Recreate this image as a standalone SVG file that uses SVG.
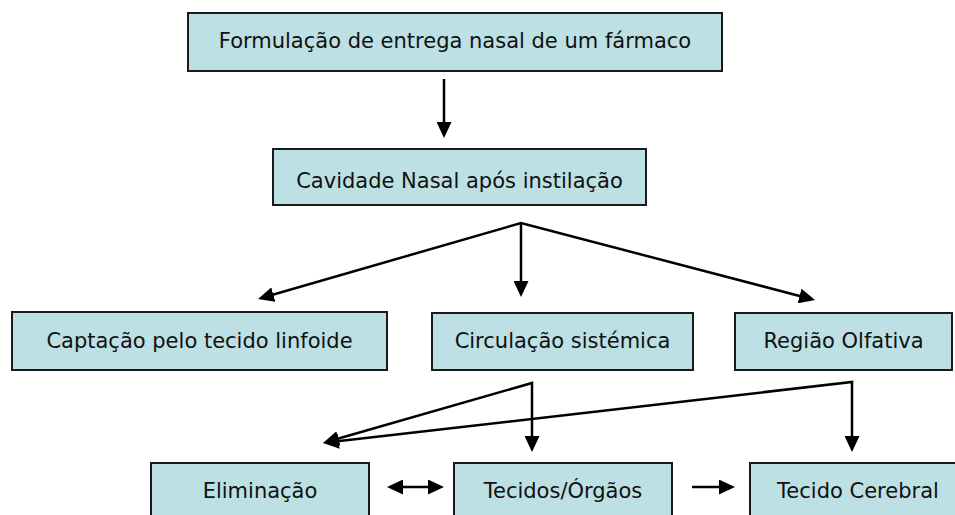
<svg xmlns="http://www.w3.org/2000/svg" width="955" height="515" viewBox="0 0 955 515">
<style>
  .box { fill: #BCE0E3; stroke: #1a1a1a; stroke-width: 2; }
  .lbl { font-family: "DejaVu Sans", "Liberation Sans", sans-serif; font-size: 21px; fill: #111; text-anchor: middle; }
  .con { fill: none; stroke: #000; stroke-width: 2.5; stroke-linejoin: miter; }
</style>
<defs>
  <marker id="ah" viewBox="0 0 16 15" refX="8" refY="7.5" markerWidth="16" markerHeight="15" markerUnits="userSpaceOnUse" orient="auto-start-reverse">
    <path d="M0,0 L16,7.5 L0,15 z" fill="#000"/>
  </marker>
</defs>
<rect width="955" height="515" fill="#fff"/>

<g id="n1"><rect class="box" x="188" y="13" width="534" height="58"/><text class="lbl" x="455" y="48">Formulação de entrega nasal de um fármaco</text></g>
<g id="n2"><rect class="box" x="273" y="149" width="373" height="56"/><text class="lbl" x="459.5" y="188">Cavidade Nasal após instilação</text></g>
<g id="n3"><rect class="box" x="12" y="312" width="375" height="58"/><text class="lbl" x="199.5" y="348">Captação pelo tecido linfoide</text></g>
<g id="n4"><rect class="box" x="432" y="313" width="261" height="57"/><text class="lbl" x="562.5" y="348">Circulação sistémica</text></g>
<g id="n5"><rect class="box" x="735" y="313" width="217" height="57"/><text class="lbl" x="843.5" y="348">Região Olfativa</text></g>
<g id="n6"><rect class="box" x="151" y="463" width="218" height="70"/><text class="lbl" x="260" y="498">Eliminação</text></g>
<g id="n7"><rect class="box" x="454" y="463" width="218" height="70"/><text class="lbl" x="563" y="498">Tecidos/Órgãos</text></g>
<g id="n8"><rect class="box" x="750" y="463" width="216" height="70"/><text class="lbl" x="858" y="498">Tecido Cerebral</text></g>

<g id="connectors">
  <path class="con" d="M444,79 L444,130" marker-end="url(#ah)"/>
  <path class="con" d="M265.7,296.8 L521,223 L807.3,298" marker-start="url(#ah)" marker-end="url(#ah)"/>
  <path class="con" d="M521,223 L521,289" marker-end="url(#ah)"/>
  <path class="con" d="M330.7,440.8 L532,383 L532,444" marker-start="url(#ah)" marker-end="url(#ah)"/>
  <path class="con" d="M330.9,442.1 L852,382 L852,444" marker-start="url(#ah)" marker-end="url(#ah)"/>
  <path class="con" d="M395,487 L436,487" marker-start="url(#ah)" marker-end="url(#ah)"/>
  <path class="con" d="M692,487 L727,487" marker-end="url(#ah)"/>
</g>
</svg>
